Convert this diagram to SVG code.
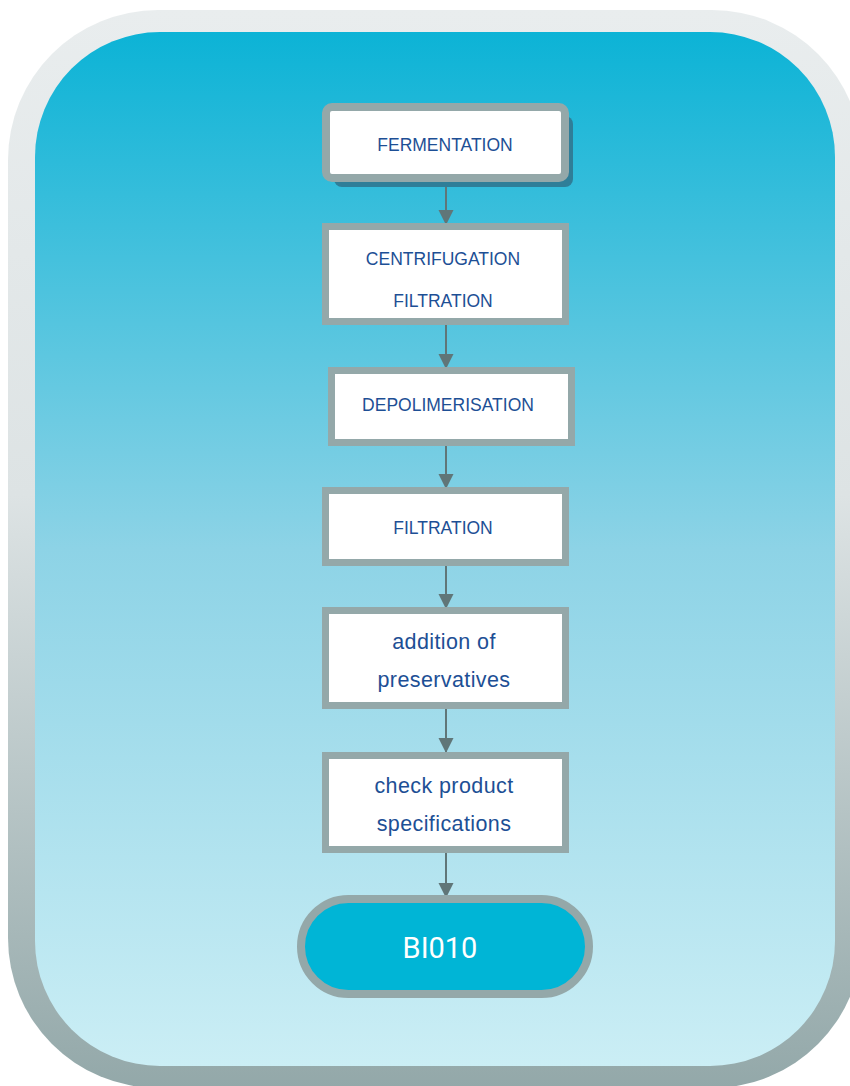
<svg xmlns="http://www.w3.org/2000/svg" width="850" height="1086" viewBox="0 0 850 1086">
  <defs>
    <linearGradient id="frameGrad" x1="0" y1="0" x2="0" y2="1">
      <stop offset="0" stop-color="#E9EDEE"/>
      <stop offset="0.45" stop-color="#DDE3E4"/>
      <stop offset="1" stop-color="#93A8A9"/>
    </linearGradient>
    <linearGradient id="panelGrad" x1="0" y1="0" x2="0" y2="1">
      <stop offset="0" stop-color="#0CB3D6"/>
      <stop offset="0.5" stop-color="#8DD3E6"/>
      <stop offset="1" stop-color="#CBEEF5"/>
    </linearGradient>
    <marker id="arrowHead" markerUnits="userSpaceOnUse" markerWidth="16" markerHeight="16" refX="15" refY="7.5" orient="auto">
      <path d="M0,0 L15,7.5 L0,15 z" fill="#607678"/>
    </marker>
    <style>
      .box { fill: #FFFFFF; stroke: #94A8A9; stroke-width: 7; }
      .label { font-family: "Liberation Sans", Arial, sans-serif; fill: #1D4F95; text-anchor: middle; }
      .caps { font-size: 17.5px; }
      .lower { font-size: 21.5px; letter-spacing: 0.4px; }
      .conn { stroke: #607678; stroke-width: 2; fill: none; marker-end: url(#arrowHead); }
    </style>
  </defs>

  <!-- frame and panel -->
  <rect x="8" y="10" width="854" height="1078" rx="150" ry="150" fill="url(#frameGrad)"/>
  <rect x="35" y="32" width="800" height="1034" rx="125" ry="125" fill="url(#panelGrad)"/>

  <!-- connectors -->
  <g id="connectors">
    <line class="conn" x1="446" y1="187" x2="446" y2="225"/>
    <line class="conn" x1="446" y1="325" x2="446" y2="369"/>
    <line class="conn" x1="446" y1="446" x2="446" y2="489"/>
    <line class="conn" x1="446" y1="566" x2="446" y2="609"/>
    <line class="conn" x1="446" y1="709" x2="446" y2="753"/>
    <line class="conn" x1="446" y1="853" x2="446" y2="898"/>
  </g>

  <g id="fermentation">
    <!-- drop shadow under the start box -->
    <rect x="334" y="116" width="239" height="71" rx="8" fill="#2F7E98"/>
    <rect x="326" y="107" width="239" height="71" rx="6" fill="#FFFFFF" stroke="#94A8A9" stroke-width="8"/>
    <text class="label caps" x="445" y="151">FERMENTATION</text>
  </g>

  <g id="centrifugation">
    <rect class="box" x="325.5" y="226.5" width="240" height="95"/>
    <text class="label caps" x="443" y="265">CENTRIFUGATION</text>
    <text class="label caps" x="443" y="307">FILTRATION</text>
  </g>

  <g id="depolimerisation">
    <rect class="box" x="331.5" y="370.5" width="240" height="72"/>
    <text class="label caps" x="448" y="411">DEPOLIMERISATION</text>
  </g>

  <g id="filtration">
    <rect class="box" x="325.5" y="490.5" width="240" height="72"/>
    <text class="label caps" x="443" y="534">FILTRATION</text>
  </g>

  <g id="preservatives">
    <rect class="box" x="325.5" y="610.5" width="240" height="95"/>
    <text class="label lower" x="444" y="649">addition of</text>
    <text class="label lower" x="444" y="687">preservatives</text>
  </g>

  <g id="specifications">
    <rect class="box" x="325.5" y="755.5" width="240" height="94"/>
    <text class="label lower" x="444" y="793">check product</text>
    <text class="label lower" x="444" y="831">specifications</text>
  </g>

  <g id="bi010">
    <rect x="301" y="899" width="288" height="95" rx="47.5" ry="47.5" fill="#00B5D6" stroke="#94A8A9" stroke-width="8"/>
    <text x="440" y="958" font-family="Roboto, 'Liberation Sans', sans-serif" font-size="29" fill="#FFFFFF" text-anchor="middle">BI010</text>
  </g>
</svg>
